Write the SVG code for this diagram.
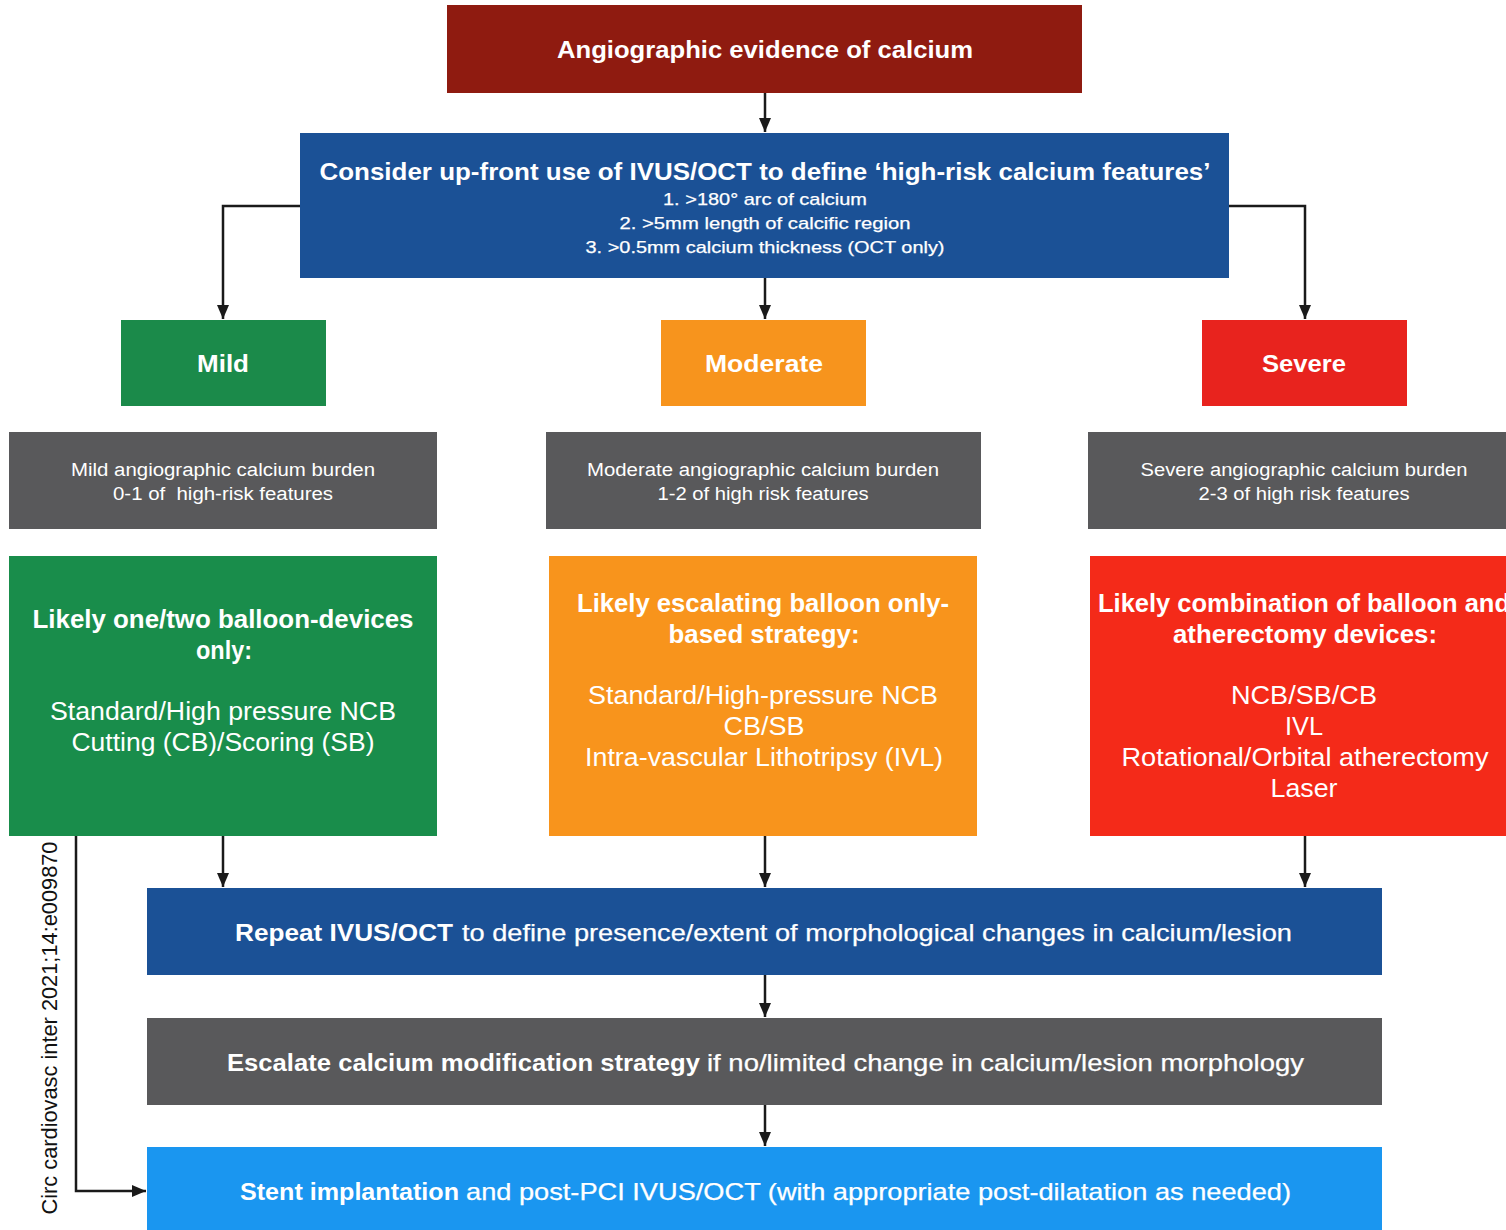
<svg xmlns="http://www.w3.org/2000/svg" width="1506" height="1230" viewBox="0 0 1506 1230">
<defs>
<marker id="ah" markerUnits="userSpaceOnUse" markerWidth="15" markerHeight="15" viewBox="0 0 15 15" refX="14" refY="7.5" orient="auto">
<path d="M0,1.5 L14,7.5 L0,13.5 Z" fill="#1a1a1a"/>
</marker>
</defs>
<style>
text{font-family:"Liberation Sans",Arial,sans-serif;fill:#ffffff;}
.c{text-anchor:middle;}
.b{font-weight:bold;}
.m{stroke:#ffffff;stroke-width:0.25;}
.t24{font-size:24px;}
.t25{font-size:25px;}
.t18{font-size:18px;}
.t17{font-size:17px;}
.line{fill:none;stroke:#1a1a1a;stroke-width:2.5;}
.arr{marker-end:url(#ah);}
.cite{fill:#111111;font-family:"Liberation Sans",Arial,sans-serif;font-size:22px;}
</style>
<rect width="1506" height="1230" fill="#ffffff"/>

<g id="connectors">
<line class="line arr" x1="765" y1="93" x2="765" y2="132"/>
<polyline class="line arr" points="300,206 223,206 223,319"/>
<line class="line arr" x1="765" y1="278" x2="765" y2="319"/>
<polyline class="line arr" points="1229,206 1305,206 1305,319"/>
<line class="line arr" x1="223" y1="836" x2="223" y2="887"/>
<line class="line arr" x1="765" y1="836" x2="765" y2="887"/>
<line class="line arr" x1="1305" y1="836" x2="1305" y2="887"/>
<line class="line arr" x1="765" y1="975" x2="765" y2="1017"/>
<line class="line arr" x1="765" y1="1105" x2="765" y2="1146"/>
<polyline class="line arr" points="76,836 76,1191 146,1191"/>
</g>

<g id="n-angio">
<rect x="447" y="5" width="635" height="88" fill="#8f1b10"/>
<text class="c b t24" x="765" y="58" textLength="416" lengthAdjust="spacingAndGlyphs">Angiographic evidence of calcium</text>
</g>

<g id="n-ivus">
<rect x="300" y="133" width="929" height="145" fill="#1b5196"/>
<text class="c b t24" x="765" y="180" textLength="891" lengthAdjust="spacingAndGlyphs">Consider up-front use of IVUS/OCT to define ‘high-risk calcium features’</text>
<text class="c t17 m" x="765" y="205" textLength="204" lengthAdjust="spacingAndGlyphs">1. &gt;180° arc of calcium</text>
<text class="c t17 m" x="765" y="229" textLength="291" lengthAdjust="spacingAndGlyphs">2. &gt;5mm length of calcific region</text>
<text class="c t17 m" x="765" y="253" textLength="359" lengthAdjust="spacingAndGlyphs">3. &gt;0.5mm calcium thickness (OCT only)</text>
</g>

<g id="n-mild">
<rect x="121" y="320" width="205" height="86" fill="#1b8a4a"/>
<text class="c b t24" x="223" y="372" textLength="52" lengthAdjust="spacingAndGlyphs">Mild</text>
</g>
<g id="n-moderate">
<rect x="661" y="320" width="205" height="86" fill="#f7941d"/>
<text class="c b t24" x="764" y="372" textLength="118" lengthAdjust="spacingAndGlyphs">Moderate</text>
</g>
<g id="n-severe">
<rect x="1202" y="320" width="205" height="86" fill="#e8231e"/>
<text class="c b t24" x="1304" y="372" textLength="84" lengthAdjust="spacingAndGlyphs">Severe</text>
</g>

<g id="n-mild-burden">
<rect x="9" y="432" width="428" height="97" fill="#59595b"/>
<text class="c t18" x="223" y="476" textLength="304" lengthAdjust="spacingAndGlyphs">Mild angiographic calcium burden</text>
<text class="c t18" x="223" y="500" textLength="220" lengthAdjust="spacingAndGlyphs" xml:space="preserve">0-1 of  high-risk features</text>
</g>
<g id="n-moderate-burden">
<rect x="546" y="432" width="435" height="97" fill="#59595b"/>
<text class="c t18" x="763" y="476" textLength="352" lengthAdjust="spacingAndGlyphs">Moderate angiographic calcium burden</text>
<text class="c t18" x="763" y="500" textLength="211" lengthAdjust="spacingAndGlyphs">1-2 of high risk features</text>
</g>
<g id="n-severe-burden">
<rect x="1088" y="432" width="418" height="97" fill="#59595b"/>
<text class="c t18" x="1304" y="476" textLength="327" lengthAdjust="spacingAndGlyphs">Severe angiographic calcium burden</text>
<text class="c t18" x="1304" y="500" textLength="211" lengthAdjust="spacingAndGlyphs">2-3 of high risk features</text>
</g>

<g id="n-mild-strategy">
<rect x="9" y="556" width="428" height="280" fill="#198d4b"/>
<text class="c b t25" x="223" y="628" textLength="381" lengthAdjust="spacingAndGlyphs">Likely one/two balloon-devices</text>
<text class="c b t25" x="224" y="659" textLength="56" lengthAdjust="spacingAndGlyphs">only:</text>
<text class="c t25" x="223" y="720" textLength="346" lengthAdjust="spacingAndGlyphs">Standard/High pressure NCB</text>
<text class="c t25" x="223" y="751" textLength="303" lengthAdjust="spacingAndGlyphs">Cutting (CB)/Scoring (SB)</text>
</g>

<g id="n-moderate-strategy">
<rect x="549" y="556" width="428" height="280" fill="#f8941c"/>
<text class="c b t25" x="763" y="612" textLength="372" lengthAdjust="spacingAndGlyphs">Likely escalating balloon only-</text>
<text class="c b t25" x="764" y="643" textLength="191" lengthAdjust="spacingAndGlyphs">based strategy:</text>
<text class="c t25" x="763" y="704" textLength="350" lengthAdjust="spacingAndGlyphs">Standard/High-pressure NCB</text>
<text class="c t25" x="764" y="735" textLength="81" lengthAdjust="spacingAndGlyphs">CB/SB</text>
<text class="c t25" x="764" y="766" textLength="358" lengthAdjust="spacingAndGlyphs">Intra-vascular Lithotripsy (IVL)</text>
</g>

<g id="n-severe-strategy">
<rect x="1090" y="556" width="416" height="280" fill="#f42a19"/>
<text class="c b t25" x="1304" y="612" textLength="412" lengthAdjust="spacingAndGlyphs">Likely combination of balloon and</text>
<text class="c b t25" x="1305" y="643" textLength="264" lengthAdjust="spacingAndGlyphs">atherectomy devices:</text>
<text class="c t25" x="1304" y="704" textLength="146" lengthAdjust="spacingAndGlyphs">NCB/SB/CB</text>
<text class="c t25" x="1304" y="735" textLength="38" lengthAdjust="spacingAndGlyphs">IVL</text>
<text class="c t25" x="1305" y="766" textLength="367" lengthAdjust="spacingAndGlyphs">Rotational/Orbital atherectomy</text>
<text class="c t25" x="1304" y="797" textLength="67" lengthAdjust="spacingAndGlyphs">Laser</text>
</g>

<g id="n-repeat">
<rect x="147" y="888" width="1235" height="87" fill="#1b5196"/>
<text class="b t24" x="235" y="941" textLength="218" lengthAdjust="spacingAndGlyphs">Repeat IVUS/OCT</text>
<text class="t24 m" x="462" y="941" textLength="830" lengthAdjust="spacingAndGlyphs">to define presence/extent of morphological changes in calcium/lesion</text>
</g>

<g id="n-escalate">
<rect x="147" y="1018" width="1235" height="87" fill="#59595b"/>
<text class="b t24" x="227" y="1071" textLength="473" lengthAdjust="spacingAndGlyphs">Escalate calcium modification strategy</text>
<text class="t24 m" x="707" y="1071" textLength="597" lengthAdjust="spacingAndGlyphs">if no/limited change in calcium/lesion morphology</text>
</g>

<g id="n-stent">
<rect x="147" y="1147" width="1235" height="83" fill="#1a96f0"/>
<text class="b t24" x="240" y="1200" textLength="219" lengthAdjust="spacingAndGlyphs">Stent implantation</text>
<text class="t24 m" x="466" y="1200" textLength="825" lengthAdjust="spacingAndGlyphs">and post-PCI IVUS/OCT (with appropriate post-dilatation as needed)</text>
</g>

<g id="citation">
<text class="cite" text-anchor="middle" transform="translate(57,1028) rotate(-90)" textLength="373" lengthAdjust="spacingAndGlyphs">Circ cardiovasc inter 2021;14:e009870</text>
</g>
</svg>
